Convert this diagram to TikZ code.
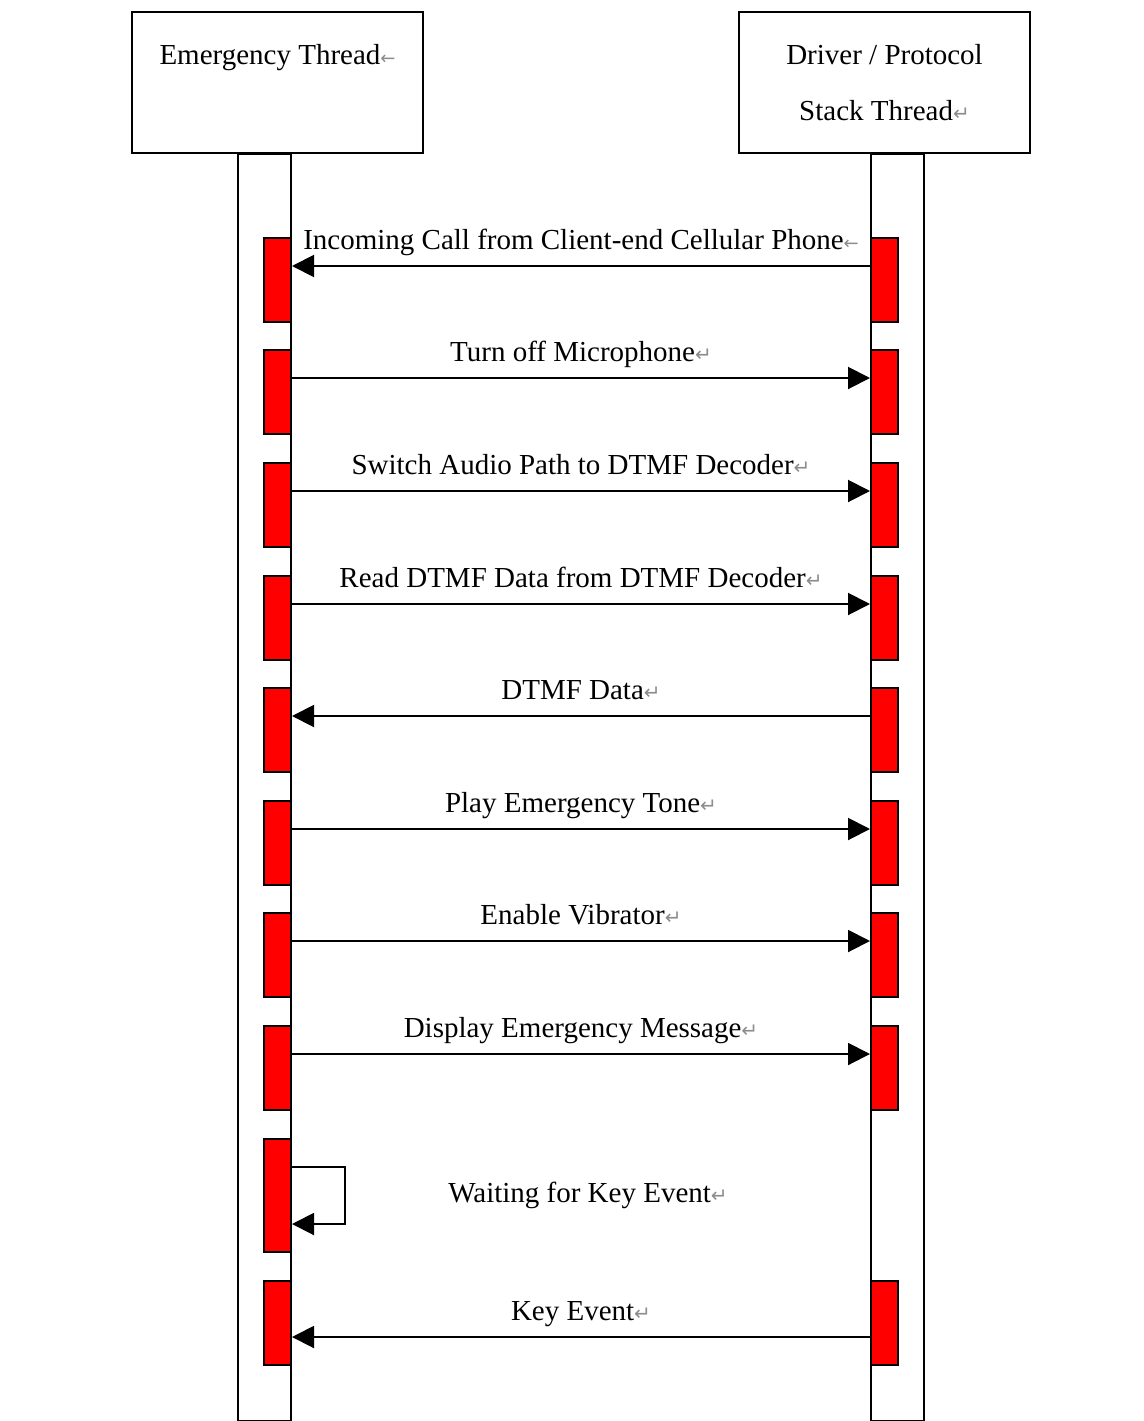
\documentclass[tikz,border=0pt]{standalone}
\usepackage{fontspec}
\setmainfont{Liberation Serif}
\newfontfamily\markfont{DejaVu Sans}
\usetikzlibrary{arrows.meta}
% Word paragraph marks
\newcommand{\parmark}{{\markfont\color{black!45}\fontsize{20}{20}\selectfont\symbol{"21B5}}}
\newcommand{\linemark}{{\markfont\color{black!45}\fontsize{18}{18}\selectfont\symbol{"2190}}}

\begin{document}
\begin{tikzpicture}[x=1pt,y=-1pt,
  thread/.style={draw, line width=2pt, minimum width=291pt, minimum height=141pt, inner sep=0pt, align=center, font=\fontsize{29}{56}\selectfont},
  life/.style={draw, line width=2pt, minimum width=53pt, minimum height=1267pt, inner sep=0pt, anchor=north},
  act/.style={draw, line width=2pt, fill=red, minimum width=27pt, minimum height=84pt, inner sep=0pt},
  msg/.style={line width=2pt, -{Triangle[length=22pt,width=22pt]}},
  lbl/.style={font=\fontsize{29}{34}\selectfont, inner sep=0pt, anchor=base, yshift=17pt}]
\useasboundingbox (0,0) rectangle (1143,1421);

\node[thread] (emerg) at (277.5,82.5) {Emergency Thread\linemark\\\mbox{}};
\node[thread] (driver) at (884.5,82.5) {Driver / Protocol\\Stack Thread\parmark};

\node[life] (elife) at (264.5,153) {};
\node[life] (dlife) at (897.5,153) {};

% activation boxes
\node[act] (e1) at (277.5,280) {};
\node[act] (d1) at (884.5,280) {};
\node[act] (e2) at (277.5,392) {};
\node[act] (d2) at (884.5,392) {};
\node[act] (e3) at (277.5,505) {};
\node[act] (d3) at (884.5,505) {};
\node[act] (e4) at (277.5,618) {};
\node[act] (d4) at (884.5,618) {};
\node[act] (e5) at (277.5,730) {};
\node[act] (d5) at (884.5,730) {};
\node[act] (e6) at (277.5,843) {};
\node[act] (d6) at (884.5,843) {};
\node[act] (e7) at (277.5,955) {};
\node[act] (d7) at (884.5,955) {};
\node[act] (e8) at (277.5,1068) {};
\node[act] (d8) at (884.5,1068) {};
\node[act, minimum height=113pt] (e9) at (277.5,1195.5) {};
\node[act] (e10) at (277.5,1322.5) {};
\node[act] (d10) at (884.5,1322.5) {};

% messages
\draw[msg] ([yshift=14pt]d1.west) -- ([yshift=14pt]e1.east) node[lbl, pos=0.5] {Incoming Call from Client-end Cellular Phone\linemark};
\draw[msg] ([yshift=14pt]e2.east) -- ([yshift=14pt]d2.west) node[lbl, pos=0.5] {Turn off Microphone\parmark};
\draw[msg] ([yshift=14pt]e3.east) -- ([yshift=14pt]d3.west) node[lbl, pos=0.5] {Switch Audio Path to DTMF Decoder\parmark};
\draw[msg] ([yshift=14pt]e4.east) -- ([yshift=14pt]d4.west) node[lbl, pos=0.5] {Read DTMF Data from DTMF Decoder\parmark};
\draw[msg] ([yshift=14pt]d5.west) -- ([yshift=14pt]e5.east) node[lbl, pos=0.5] {DTMF Data\parmark};
\draw[msg] ([yshift=14pt]e6.east) -- ([yshift=14pt]d6.west) node[lbl, pos=0.5] {Play Emergency Tone\parmark};
\draw[msg] ([yshift=14pt]e7.east) -- ([yshift=14pt]d7.west) node[lbl, pos=0.5] {Enable Vibrator\parmark};
\draw[msg] ([yshift=14pt]e8.east) -- ([yshift=14pt]d8.west) node[lbl, pos=0.5] {Display Emergency Message\parmark};

\draw[msg] ([yshift=28.5pt]e9.east) -- ++(53,0) |- ([yshift=-28.5pt]e9.east);
\node[font=\fontsize{29}{34}\selectfont] (wait) at (588,1195.5) {Waiting for Key Event\parmark};

\draw[msg] ([yshift=-14.5pt]d10.west) -- ([yshift=-14.5pt]e10.east) node[lbl, pos=0.5] {Key Event\parmark};
\end{tikzpicture}
\end{document}
